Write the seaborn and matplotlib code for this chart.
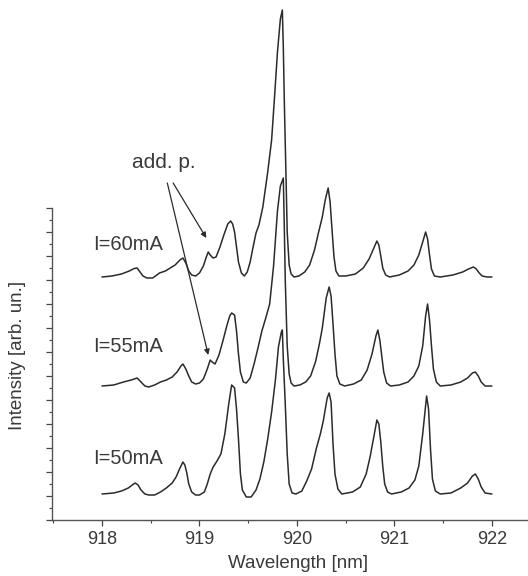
"""
Recreate the stacked diode-laser emission spectra (I = 50, 55, 60 mA).
"""

import matplotlib

matplotlib.use("Agg")
import matplotlib.pyplot as plt
from matplotlib.ticker import MultipleLocator
import pandas as pd
import seaborn as sns

# Spectra: wavelength (nm) and intensity above each
# trace's own baseline (arbitrary units).
WAVELENGTH_60: list[float] = [
    918.00, 918.10, 918.20, 918.28, 918.33, 918.36, 918.39, 918.42, 918.46,
    918.52, 918.59, 918.65, 918.70, 918.75, 918.80, 918.83, 918.86, 918.89,
    918.92, 918.96, 919.00, 919.04, 919.07, 919.09, 919.11, 919.14, 919.17,
    919.21, 919.25, 919.29, 919.32, 919.34, 919.36, 919.38, 919.40, 919.43,
    919.46, 919.49, 919.52, 919.55, 919.58, 919.61, 919.65, 919.70, 919.74,
    919.77, 919.80, 919.83, 919.85, 919.86, 919.87, 919.89, 919.90, 919.92,
    919.94, 919.97, 920.02, 920.08, 920.13, 920.18, 920.22, 920.26, 920.29,
    920.32, 920.34, 920.36, 920.38, 920.40, 920.43, 920.50, 920.60, 920.68,
    920.74, 920.78, 920.82, 920.84, 920.86, 920.88, 920.91, 920.95, 921.05,
    921.14, 921.20, 921.25, 921.29, 921.32, 921.34, 921.36, 921.38, 921.41,
    921.47, 921.60, 921.70, 921.76, 921.81, 921.84, 921.87, 921.90, 921.95,
    922.00,
]
INTENSITY_60: list[float] = [
    0, 1, 3, 6, 8.5, 9, 5, 1, -1,
    -1, 4, 6, 9, 12, 17, 19, 14, 6,
    2, 1, 4, 11, 20, 25, 22, 19, 20,
    30, 42, 53, 56, 53, 45, 30, 15, 4,
    1, 5, 15, 30, 44, 52, 70, 105, 137,
    180, 225, 258, 267, 230, 177, 90, 45, 12,
    3, 0, 1, 5, 12, 27, 44, 60, 77,
    89, 75, 47, 20, 6, 1, 1, 3, 9,
    18, 27, 36, 32, 21, 9, 2, 0, 2,
    6, 12, 22, 35, 45, 38, 22, 8, 1,
    0, 2, 5, 8, 10, 8, 4, 1, 0,
    0,
]

WAVELENGTH_55: list[float] = [
    918.00, 918.12, 918.22, 918.30, 918.36, 918.40, 918.44, 918.48, 918.54,
    918.60, 918.66, 918.72, 918.77, 918.81, 918.83, 918.86, 918.89, 918.92,
    918.96, 919.00, 919.04, 919.08, 919.11, 919.13, 919.16, 919.20, 919.24,
    919.28, 919.31, 919.33, 919.36, 919.38, 919.40, 919.42, 919.45, 919.48,
    919.52, 919.56, 919.60, 919.64, 919.68, 919.72, 919.76, 919.80, 919.83,
    919.86, 919.87, 919.88, 919.90, 919.92, 919.94, 919.97, 920.03, 920.09,
    920.14, 920.19, 920.23, 920.26, 920.30, 920.33, 920.35, 920.37, 920.39,
    920.41, 920.44, 920.49, 920.58, 920.66, 920.72, 920.77, 920.81, 920.83,
    920.85, 920.87, 920.89, 920.92, 920.96, 921.05, 921.14, 921.20, 921.25,
    921.29, 921.32, 921.34, 921.36, 921.38, 921.40, 921.43, 921.47, 921.58,
    921.68, 921.75, 921.80, 921.83, 921.86, 921.89, 921.93, 922.00,
]
INTENSITY_55: list[float] = [
    0, 1, 4, 6, 8, 4, 0, -1, 1,
    4, 6, 9, 14, 20, 22, 17, 10, 4,
    2, 3, 7, 17, 26, 24, 22, 31, 45,
    60, 70, 73, 71, 55, 32, 14, 4, 3,
    8, 22, 38, 55, 68, 82, 120, 175, 200,
    208, 160, 106, 40, 12, 3, 0, 1, 4,
    10, 24, 42, 58, 88, 99, 90, 62, 32,
    10, 2, 0, 2, 6, 16, 32, 50, 56,
    46, 30, 14, 3, 0, 1, 4, 10, 20,
    40, 70, 82, 66, 40, 17, 4, 0, 1,
    4, 8, 13, 14, 10, 4, 0, 0,
]

WAVELENGTH_50: list[float] = [
    918.00, 918.12, 918.20, 918.27, 918.31, 918.34, 918.37, 918.40, 918.44,
    918.48, 918.54, 918.60, 918.66, 918.72, 918.76, 918.80, 918.83, 918.85,
    918.87, 918.89, 918.92, 918.96, 919.00, 919.05, 919.08, 919.11, 919.14,
    919.18, 919.22, 919.26, 919.30, 919.33, 919.36, 919.38, 919.40, 919.42,
    919.44, 919.48, 919.53, 919.58, 919.62, 919.66, 919.70, 919.74, 919.78,
    919.81, 919.84, 919.85, 919.86, 919.88, 919.90, 919.92, 919.95, 919.99,
    920.05, 920.10, 920.15, 920.20, 920.24, 920.27, 920.31, 920.33, 920.35,
    920.37, 920.39, 920.42, 920.46, 920.57, 920.65, 920.71, 920.75, 920.79,
    920.82, 920.84, 920.86, 920.88, 920.90, 920.93, 920.97, 921.07, 921.15,
    921.21, 921.25, 921.29, 921.33, 921.35, 921.37, 921.39, 921.42, 921.47,
    921.58, 921.68, 921.75, 921.80, 921.83, 921.86, 921.89, 921.93, 922.00,
]
INTENSITY_50: list[float] = [
    0, 1, 3, 6, 9, 11, 9, 4, 0,
    -1, -1, 2, 6, 11, 17, 26, 32, 29,
    21, 10, 2, -1, -1, 2, 10, 20, 27,
    33, 40, 60, 90, 109, 106, 85, 55, 20,
    4, -3, -3, 4, 15, 32, 55, 82, 115,
    147, 162, 164, 135, 90, 40, 10, 1, 0,
    3, 13, 25, 46, 60, 73, 96, 101, 92,
    50, 20, 5, 0, 2, 7, 20, 37, 58,
    74, 70, 52, 28, 10, 2, 0, 2, 6,
    14, 28, 60, 98, 85, 45, 15, 3, 0,
    1, 6, 11, 18, 20, 15, 7, 1, 0,
]

CURRENT_LABELS: list[str] = ["I=50mA", "I=55mA", "I=60mA"]
TRACE_OFFSETS: list[float] = [0, 108, 217]
LABEL_HEIGHTS: list[float] = [36, 147, 249]

X_TICKS: list[int] = [918, 919, 920, 921, 922]

INK = "#2b2b2b"
TEXT_INK = "#3a3a3a"


def create_spectra_plot() -> None:
    """Draw the three vertically offset spectra and save them."""
    sns.set_style("ticks")
    plt.rcParams["font.family"] = ["Liberation Sans", "DejaVu Sans"]

    fig = plt.figure(figsize=(5.28, 5.76), dpi=100)
    ax = fig.add_axes([52 / 528, 56 / 576, 475 / 528, 520 / 576])

    spectra = [
        (WAVELENGTH_50, INTENSITY_50),
        (WAVELENGTH_55, INTENSITY_55),
        (WAVELENGTH_60, INTENSITY_60),
    ]
    for (wavelength, intensity), offset, label, label_y in zip(
        spectra, TRACE_OFFSETS, CURRENT_LABELS, LABEL_HEIGHTS
    ):
        frame = pd.DataFrame(
            {"Wavelength": wavelength, "Intensity": [v + offset for v in intensity]}
        )
        sns.lineplot(
            data=frame,
            x="Wavelength",
            y="Intensity",
            ax=ax,
            color=INK,
            linewidth=1.1,
            sort=False,
            estimator=None,
        )
        ax.text(917.91, label_y, label, fontsize=14.5, color=TEXT_INK,
                ha="left", va="center")

    ax.text(918.63, 331, "add. p.", fontsize=15, color=TEXT_INK,
            ha="center", va="center")
    arrow_style = dict(arrowstyle="-|>", color=INK, lw=0.9,
                       mutation_scale=8, shrinkA=0, shrinkB=0)
    ax.annotate("", xy=(919.07, 256), xytext=(918.73, 311),
                arrowprops=arrow_style)
    ax.annotate("", xy=(919.09, 139), xytext=(918.67, 311),
                arrowprops=arrow_style)

    ax.set_xlim(917.487, 922.36)
    ax.set_ylim(-26, 494)
    ax.set_xticks(X_TICKS)
    ax.xaxis.set_minor_locator(MultipleLocator(0.5))
    ax.set_yticks([-26 + 24 * k for k in range(14)])
    ax.set_yticks([-14 + 24 * k for k in range(13)], minor=True)
    ax.set_yticklabels([])

    ax.tick_params(axis="both", which="major", direction="out", length=4,
                   width=0.9, color="#444444", labelsize=13,
                   labelcolor=TEXT_INK, pad=4)
    ax.tick_params(axis="both", which="minor", direction="out", length=2.5,
                   width=0.8, color="#444444")

    for side in ("top", "right"):
        ax.spines[side].set_visible(False)
    for side in ("left", "bottom"):
        ax.spines[side].set_color("#555555")
        ax.spines[side].set_linewidth(1.0)
    ax.spines["left"].set_bounds(-26, 286)

    ax.set_xlabel("")
    ax.set_ylabel("")
    ax.text(0.518, -0.083, "Wavelength [nm]", transform=ax.transAxes,
            fontsize=13.5, color=TEXT_INK, ha="center", va="center")
    ax.text(-0.072, 0.317, "Intensity [arb. un.]", transform=ax.transAxes,
            fontsize=13.5, color=TEXT_INK, ha="center", va="center",
            rotation=90)

    fig.savefig("out.png", dpi=100)


if __name__ == "__main__":
    create_spectra_plot()
